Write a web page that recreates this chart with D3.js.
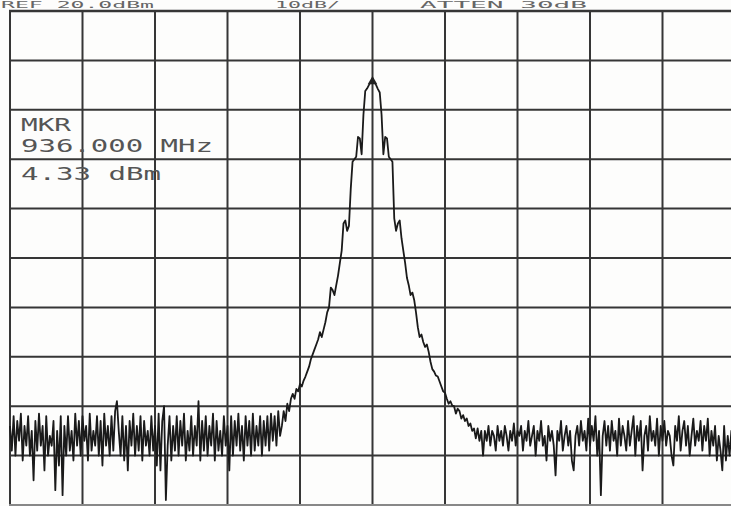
<!DOCTYPE html>
<html>
<head>
<meta charset="utf-8">
<script src="https://cdn.jsdelivr.net/npm/d3@7/dist/d3.min.js"></script>
<style>
  html, body { margin: 0; padding: 0; background: #ffffff; }
  svg { display: block; }
</style>
</head>
<body>
<svg id="chart" width="731" height="506"></svg>
<script>
// ---- Data ----
const startMHz = 935.0;
const stopMHz = 937.0;
const divisionsX = 10;
const divisionsY = 10;
const topLevelDbm = 18;
const bottomLevelDbm = -82;

const headerTexts = ["REF 20.0dBm", "10dB/", "ATTEN 30dB"];
const markerLabels = ["MKR", "936.000 MHz", "4.33 dBm"];
const markerFreqMHz = 936.0;
const markerLevelDbm = 4.33;

// trace levels in dBm, sweep points 0..149 (left noise floor)
const noiseLeft = [
  -66, -71, -64, -72, -65, -69, -63.5, -73, -66, -70,
  -64, -72, -67, -77, -65, -71, -63.5, -70, -66, -75,
  -64, -72, -68, -70, -65, -79, -67, -74, -64, -80,
  -66, -72, -64, -71, -67, -73, -63.5, -70, -65, -72,
  -64, -69, -66, -73, -63.5, -71, -67, -70, -64, -72,
  -65, -74, -63.5, -70, -66, -72, -64, -71, -63, -61,
  -67, -72, -64, -73, -66, -75, -65, -70, -63.5, -72,
  -66, -71, -64, -73, -65, -70, -67, -72, -64, -71,
  -66, -74, -63.5, -75, -65, -62, -81, -70, -64, -73,
  -66, -71, -64, -72, -65, -70, -63.5, -73, -67, -71,
  -64, -72, -66, -70, -61, -73, -65, -71, -64, -72,
  -66, -70, -63.5, -73, -65, -71, -67, -72, -64, -70,
  -66, -75, -64, -72, -65, -70, -63.5, -71, -66, -73,
  -64, -70, -65, -72, -63.5, -71, -66, -70, -64, -72,
  -65, -70, -64, -71, -63.5, -69, -64, -70, -63, -68
];
// sweep points 150..260 (signal)
const peakRegion = [
  -66, -63, -65, -61.5, -63, -60.5, -59.5, -60.5, -58.5, -59,
  -57.5, -58, -56.8, -56, -55, -54, -52.5, -51.5, -50.5, -49.5,
  -48.5, -47, -48, -46.5, -45, -43, -42, -38, -38.5, -39.5,
  -37.5, -35.5, -33, -30.5, -25, -24.4, -26.5, -25.5, -18, -12.5,
  -12, -11.5, -7.5, -7.8, -11, -3, 1.8, 2.3, 3.0, 3.6,
  4.33, 3.6, 3.0, 2.2, 1.5, -3, -11, -7.5, -7.8, -11.5,
  -12, -12.5, -24, -26.5, -25, -24.4, -28, -30.5, -33, -36,
  -37.5, -39.5, -39, -40.5, -43, -46, -48, -47.5, -49, -50,
  -49.5, -51, -53, -54.5, -55, -55.8, -56, -57, -58, -59,
  -59.3, -60.5, -61.5, -61, -61.9, -62, -63.5, -62.5, -63, -64.5,
  -63.8, -65, -64.5, -66, -65.5, -67, -66.5, -68.5, -66.5, -69,
  -67
];
// sweep points 261..400 (right noise floor)
const noiseRight = [
  -72, -67, -69, -66, -70, -67, -68, -71, -66, -69,
  -67, -70, -66, -68, -71, -67, -69, -65.5, -70, -67,
  -68, -66, -71, -67, -69, -65, -70, -68, -66, -72,
  -67, -69, -65, -70, -68, -73, -66, -69, -67, -70,
  -76, -67, -69, -65, -71, -68, -66, -70, -67, -73,
  -75, -68, -66, -70, -65, -69, -67, -71, -64.5, -70,
  -66, -69, -64, -72, -67, -80, -68, -65, -70, -66,
  -71, -65, -69, -67, -72, -64.5, -70, -66, -68, -71,
  -65, -70, -67, -64, -72, -66, -69, -65, -75, -68,
  -66, -71, -64, -69, -67, -70, -64.5, -72, -66, -69,
  -65, -70, -67, -68, -72, -74, -66, -69, -64, -71,
  -67, -65, -70, -66, -72, -68, -64.5, -70, -67, -69,
  -65, -71, -66, -69, -64.5, -72, -67, -70, -66, -73,
  -68, -71, -75, -66, -73, -68, -72, -67, -74, -70
];

const levels = noiseLeft.concat(peakRegion, noiseRight);
const nPts = levels.length;
const freqs = levels.map((_, i) => startMHz + (stopMHz - startMHz) * i / (nPts - 1));

// ---- Drawing ----
const svg = d3.select("#chart");
const x = d3.scaleLinear().domain([startMHz, stopMHz]).range([10, 735]);
const y = d3.scaleLinear().domain([topLevelDbm, bottomLevelDbm]).range([11, 505]);

svg.append("rect").attr("width", 731).attr("height", 506).attr("fill", "#fdfdfc");

const gridColor = "#363636";
const xGrid = d3.range(divisionsX + 1).map(k => startMHz + (stopMHz - startMHz) * k / divisionsX);
const yGrid = d3.range(divisionsY + 1).map(k => topLevelDbm + (bottomLevelDbm - topLevelDbm) * k / divisionsY);

svg.append("g").selectAll("line").data(xGrid).join("line")
  .attr("x1", d => x(d)).attr("x2", d => x(d))
  .attr("y1", y(topLevelDbm)).attr("y2", y(bottomLevelDbm))
  .attr("stroke", gridColor).attr("stroke-width", 2);

svg.append("g").selectAll("line").data(yGrid).join("line")
  .attr("x1", x(startMHz) - 1).attr("x2", x(stopMHz))
  .attr("y1", d => y(d)).attr("y2", d => y(d))
  .attr("stroke", (d, i) => i === divisionsY ? "#888" : gridColor)
  .attr("stroke-width", (d, i) => i === 0 ? 2.5 : 2);

// header text (thin strip at the very top)
const headerX = [1, 275, 420];
const headerLen = [153, 65, 167];
svg.append("g").selectAll("text").data(headerTexts).join("text")
  .attr("x", (d, i) => headerX[i]).attr("y", 8)
  .attr("textLength", (d, i) => headerLen[i]).attr("lengthAdjust", "spacingAndGlyphs")
  .attr("font-family", "DejaVu Sans Mono").attr("font-size", 9)
  .attr("fill", "#666").text(d => d);

// marker readout
const mkY = [131, 152, 180];
const mkLen = [50, 192, 140];
svg.append("g").selectAll("text").data(markerLabels).join("text")
  .attr("x", 21).attr("y", (d, i) => mkY[i])
  .attr("textLength", (d, i) => mkLen[i]).attr("lengthAdjust", "spacingAndGlyphs")
  .attr("font-family", "DejaVu Sans Mono").attr("font-size", 18)
  .attr("fill", "#555").text(d => d);

// trace
const line = d3.line().x((d, i) => x(freqs[i])).y(d => y(d));
svg.append("path").datum(levels)
  .attr("d", line).attr("fill", "none")
  .attr("stroke", "#1a1a1a").attr("stroke-width", 1.8)
  .attr("stroke-linejoin", "round");

// marker symbol at peak
const mx = x(markerFreqMHz), my = y(markerLevelDbm);
svg.append("path")
  .attr("d", d3.symbol(d3.symbolTriangle, 40)())
  .attr("transform", `translate(${mx},${my + 3})`)
  .attr("fill", "#222");
</script>
</body>
</html>
